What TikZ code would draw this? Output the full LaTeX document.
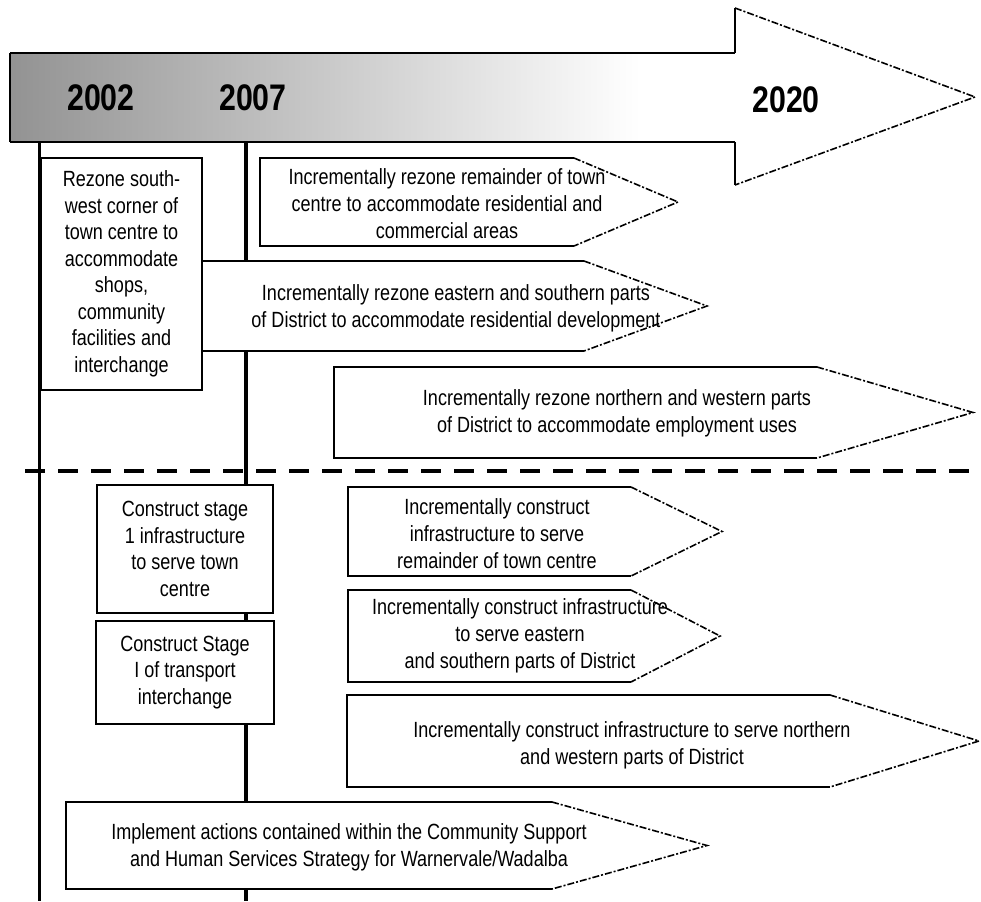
\documentclass[tikz,border=0pt]{standalone}
\usepackage{fontspec}
\setmainfont{Liberation Sans}[FakeStretch=0.82]
\usetikzlibrary{positioning}

% phase arrow: left, top, corner, bottom, tip
\newcommand{\phasearrow}[5]{%
  \fill[white] (#1,#2) -- (#3,#2) -- (#5,{(#2+#4)/2}) -- (#3,#4) -- (#1,#4) -- cycle;
  \draw[phase edge] (#3,#2) -- (#1,#2) -- (#1,#4) -- (#3,#4);
  \draw[phase tip] (#3,#2) -- (#5,{(#2+#4)/2}) -- (#3,#4);
}

\begin{document}
\begin{tikzpicture}[
            x = 1pt, y = -1pt, % pixel like units
            line cap = butt
        ]

        \tikzstyle{phase edge}=[line width = 1.6pt, line join = miter]
        \tikzstyle{phase tip}=[line width = 1.6pt, dash pattern = on 7pt off 2pt on 2pt off 2pt]
        \tikzstyle{phasetext}=[align = center, inner sep = 0pt, font = \fontsize{22}{27}\selectfont]
        \tikzstyle{year}=[inner sep = 0pt, font = \fontsize{37}{40}\selectfont\bfseries]
        \tikzstyle{stagebox}=[draw, fill = white, line width = 1.8pt, inner sep = 0pt, align = center,
            font = \fontsize{22}{26.5}\selectfont]

        \useasboundingbox (0,0) rectangle (981,901);
        \fill[white] (0,0) rectangle (981,901);

        % time arrow
        \shade[left color = gray!85, middle color = gray!55, right color = white] (10,53) rectangle (640,142);
        \fill[white] (640,53) rectangle (735,142);
        \fill[white] (735,8) -- (975,97) -- (735,185) -- cycle;
        \draw[line width = 2.5pt] (10,53) -- (735,53);
        \draw[line width = 2.5pt] (10,142) -- (735,142);
        \draw[line width = 1.5pt] (10,53) -- (10,142);
        \draw[line width = 1.2pt] (735,53) -- (735,8);
        \draw[line width = 1.2pt] (735,142) -- (735,185);
        \draw[phase tip] (735,8) -- (975,97) -- (735,185);

        \node[year] (yr02) at (101,98) {2002};
        \node[year] (yr07) at (253,98) {2007};
        \node[year] (yr20) at (786,100) {2020};

        % milestones
        \draw[line width = 3pt] (39,142) -- (39,901);
        \draw[line width = 4pt] (246,142) -- (246,901);

        \draw[line width = 4pt, dash pattern = on 20pt off 13pt] (25,471) -- (981,471);

        % rezoning
        \node[stagebox, minimum width = 161pt, minimum height = 232pt] (rezonesw) at (121.5,274)
            {Rezone south-\\west corner of\\town centre to\\accommodate\\shops,\\community\\facilities and\\interchange};

        \phasearrow{260}{158}{574}{246}{678}
        \node[phasetext] (rezonetc) at (447,204)
            {Incrementally rezone remainder of town\\centre to accommodate residential and\\commercial areas};

        \phasearrow{202}{261}{584}{351}{707}
        \node[phasetext] (rezoneeast) at (456,308)
            {Incrementally rezone eastern and southern parts\\of District to accommodate residential development};

        \phasearrow{334}{367}{817}{458}{973}
        \node[phasetext] (rezonenorth) at (617,413)
            {Incrementally rezone northern and western parts\\of District to accommodate employment uses};

        % construction
        \node[stagebox, minimum width = 176pt, minimum height = 128pt] (stageone) at (185,549)
            {Construct stage\\1 infrastructure\\to serve town\\centre};
        \node[stagebox, minimum width = 178pt, minimum height = 103pt, below = 6pt of stageone] (interchange)
            {Construct Stage\\I of transport\\interchange};

        \phasearrow{348}{487}{631}{576}{722}
        \node[phasetext] (buildtc) at (497,534)
            {Incrementally construct\\infrastructure to serve\\remainder of town centre};

        \phasearrow{348}{590}{631}{682}{720}
        \node[phasetext] (buildeast) at (520,636)
            {Incrementally construct infrastructure\\to serve eastern\\and southern parts of District};

        \phasearrow{347}{695}{830}{787}{979}
        \node[phasetext] (buildnorth) at (632,745.5)
            {Incrementally construct infrastructure to serve northern\\and western parts of District};

        \phasearrow{66}{802}{552}{889}{707}
        \node[phasetext] (community) at (349,847.5)
            {Implement actions contained within the Community Support\\and Human Services Strategy for Warnervale/Wadalba};

  \end{tikzpicture}
\end{document}
